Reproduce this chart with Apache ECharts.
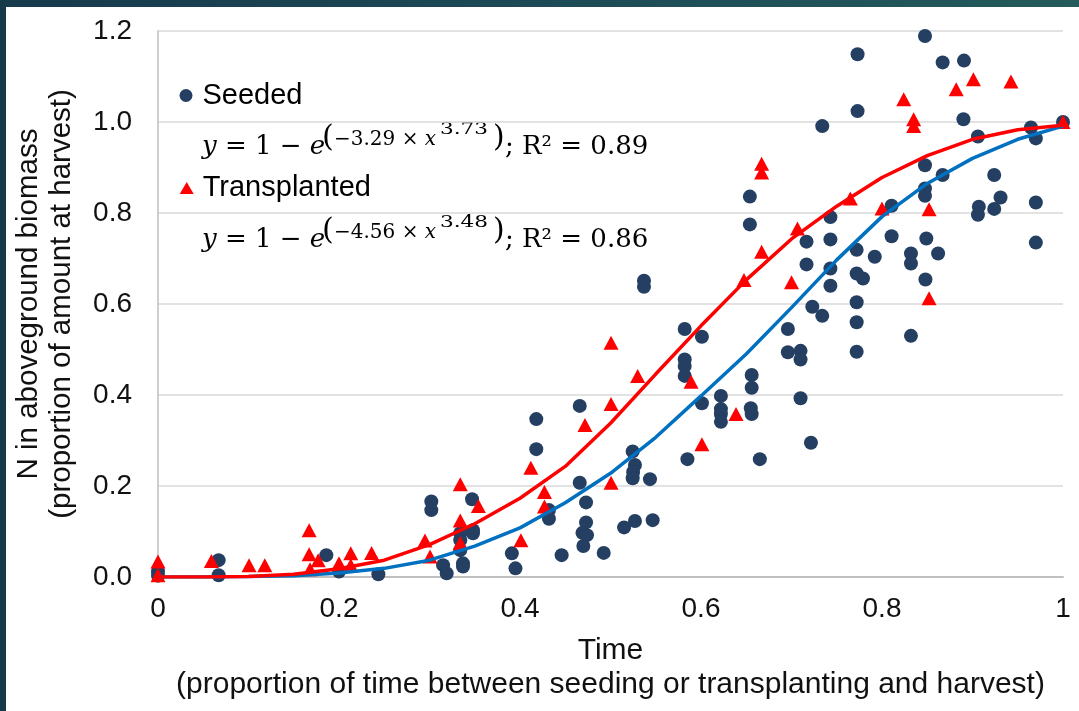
<!DOCTYPE html>
<html>
<head>
<meta charset="utf-8">
<script src="https://cdn.jsdelivr.net/npm/echarts@6/dist/echarts.min.js"></script>
<style>
  html, body { margin: 0; padding: 0; background: #ffffff; }
  #chart { position: absolute; left: 0; top: 0; width: 1079px; height: 711px; background: #ffffff; }
  #stripTop { position: absolute; left: 0; top: 0; width: 1079px; height: 7px; background: linear-gradient(90deg, #173a4c 0%, #1d4a56 50%, #245b5a 100%); z-index: 5; }
  #stripLeft { position: absolute; left: 0; top: 0; width: 6px; height: 711px; background: #173a4b; z-index: 5; }
</style>
</head>
<body>
<div id="chart"></div>
<div id="stripTop"></div>
<div id="stripLeft"></div>
<script>
// ---- Data ----
const seededX = [0, 0, 0.067, 0.067, 0.186, 0.200, 0.2435, 0.302, 0.302, 0.315, 0.319,
  0.334, 0.334, 0.334, 0.337, 0.337, 0.347, 0.348, 0.348, 0.391, 0.395,
  0.418, 0.418, 0.432, 0.432, 0.446, 0.466, 0.466, 0.473, 0.473, 0.469, 0.474, 0.470,
  0.4925, 0.515, 0.527, 0.5466, 0.5245, 0.527, 0.525, 0.5245, 0.5436,
  0.537, 0.537, 0.582, 0.601, 0.582, 0.582, 0.582, 0.601, 0.585,
  0.622, 0.622, 0.622, 0.622, 0.654, 0.654, 0.656, 0.656, 0.655, 0.656, 0.665,
  0.696, 0.696, 0.710, 0.710, 0.710, 0.7166, 0.7166, 0.7215, 0.723, 0.734, 0.734,
  0.743, 0.743, 0.743, 0.743, 0.773, 0.773, 0.772, 0.772, 0.779, 0.772, 0.772, 0.772,
  0.792, 0.8106, 0.8106, 0.832, 0.832, 0.832, 0.8475, 0.8475, 0.8475, 0.8475, 0.849, 0.848,
  0.862, 0.867, 0.867, 0.8906, 0.890, 0.906, 0.907, 0.906, 0.924, 0.924, 0.931,
  0.9646, 0.970, 0.970, 0.970, 1.0];
const seededY = [0.012, 0.003, 0.037, 0.004, 0.048, 0.012, 0.006, 0.166, 0.147, 0.026, 0.008,
  0.096, 0.081, 0.059, 0.030, 0.023, 0.171, 0.103, 0.096, 0.052, 0.019,
  0.347, 0.281, 0.147, 0.128, 0.048, 0.376, 0.207, 0.164, 0.120, 0.097, 0.092, 0.068,
  0.053, 0.109, 0.123, 0.125, 0.276, 0.246, 0.231, 0.217, 0.215,
  0.651, 0.638, 0.545, 0.528, 0.478, 0.464, 0.442, 0.382, 0.259,
  0.398, 0.369, 0.358, 0.341, 0.836, 0.775, 0.444, 0.416, 0.371, 0.358, 0.259,
  0.545, 0.494, 0.497, 0.478, 0.393, 0.737, 0.687, 0.295, 0.594, 0.991, 0.574,
  0.791, 0.742, 0.678, 0.640, 1.149, 1.024, 0.719, 0.667, 0.656, 0.604, 0.560, 0.495,
  0.704, 0.816, 0.749, 0.711, 0.689, 0.530, 1.189, 0.905, 0.854, 0.838, 0.744, 0.654,
  0.711, 1.131, 0.8835, 1.135, 1.006, 0.968, 0.814, 0.796, 0.8835, 0.809, 0.834,
  0.988, 0.964, 0.823, 0.735, 1.0];

const transplantedX = [0, 0, 0.059, 0.1006, 0.118, 0.167, 0.167, 0.168, 0.177, 0.200, 0.213, 0.213,
  0.236, 0.295, 0.3006, 0.334, 0.334, 0.334, 0.354, 0.401, 0.412, 0.427, 0.427,
  0.4718, 0.5006, 0.5006, 0.5006, 0.530, 0.589, 0.601, 0.6387, 0.6475,
  0.667, 0.667, 0.667, 0.700, 0.7066, 0.765, 0.800, 0.824, 0.835, 0.835,
  0.852, 0.852, 0.882, 0.901, 0.9425, 1.0];
const transplantedY = [0.034, 0.004, 0.035, 0.026, 0.026, 0.103, 0.050, 0.017, 0.037, 0.030, 0.052, 0.026,
  0.053, 0.080, 0.045, 0.204, 0.124, 0.075, 0.156, 0.081, 0.240, 0.187, 0.155,
  0.334, 0.515, 0.380, 0.207, 0.442, 0.429, 0.292, 0.358, 0.653,
  0.908, 0.889, 0.715, 0.648, 0.766, 0.832, 0.810, 1.050, 1.006, 0.991,
  0.808, 0.6125, 1.072, 1.094, 1.089, 1.0];

// fitted curves
const fitX = [0, 0.05, 0.1, 0.15, 0.2, 0.25, 0.3, 0.35, 0.4, 0.45, 0.5,
  0.55, 0.6, 0.65, 0.7, 0.75, 0.8, 0.85, 0.9, 0.95, 1.0];
const seededFitY = [0, 0, 0.001, 0.003, 0.009, 0.019, 0.037, 0.068, 0.108, 0.163, 0.228,
  0.307, 0.398, 0.490, 0.592, 0.697, 0.792, 0.865, 0.920, 0.962, 0.991];
const transplantedFitY = [0, 0, 0.001, 0.006, 0.018, 0.037, 0.071, 0.117, 0.173, 0.243, 0.338,
  0.446, 0.552, 0.653, 0.743, 0.815, 0.878, 0.926, 0.962, 0.983, 0.993];

const xTickLabels = ['0', '0.2', '0.4', '0.6', '0.8', '1'];
const yTickLabels = ['0.0', '0.2', '0.4', '0.6', '0.8', '1.0', '1.2'];

const seriesNames = ['Seeded', 'Transplanted'];
const eqCoef = ['\u22123.29 \u00d7 ', '\u22124.56 \u00d7 '];
const eqPow = ['3.73', '3.48'];
const eqR2 = ['0.89', '0.86'];

const pairs = (xs, ys) => xs.map((x, i) => [x, ys[i]]);

// ---- equation graphics ----
const SERIF = '"DejaVu Serif", serif';
function eqGraphics(k, dy) {
  const mk = (x, y, text, size, extra) => Object.assign({
    type: 'text', x: x, y: y + dy, silent: true,
    style: Object.assign({
      text: text, fill: '#000', font: size + 'px ' + SERIF,
      textAlign: 'left', textVerticalAlign: 'middle', verticalAlign: 'middle'
    }, extra || {})
  });
  return [
    mk(202, 147.5, '{i|y} = 1 \u2212 {i|e}', 26, {
      rich: { i: { fontStyle: 'italic', fontFamily: SERIF, fontSize: 26, fill: '#000' } }
    }),
    mk(322, 138, '(', 30),
    mk(334, 139.5, eqCoef[k] + '{i|x}', 20, {
      rich: { i: { fontStyle: 'italic', fontFamily: SERIF, fontSize: 20, fill: '#000' } }
    }),
    Object.assign(mk(440, 130, eqPow[k], 16), { scaleX: 1.35 }),
    mk(493, 138, ')', 30),
    mk(505, 147.5, '; R\u00b2 = ' + eqR2[k], 26)
  ];
}

const chart = echarts.init(document.getElementById('chart'), null, { renderer: 'canvas' });
const textColor = '#111';
const SANS = '"Liberation Sans", Arial, sans-serif';

chart.setOption({
  animation: false,
  backgroundColor: '#ffffff',
  grid: { left: 158, right: 16, top: 31, bottom: 134, containLabel: false },
  legend: [
    {
      data: [seriesNames[0]], left: 179.5, top: 80.5, padding: 0, selectedMode: false,
      icon: 'circle', itemWidth: 13, itemHeight: 13,
      textStyle: { fontFamily: SANS, fontSize: 29, lineHeight: 30, color: '#000', padding: [0, 0, 0, 5] }
    },
    {
      data: [seriesNames[1]], left: 179.7, top: 173, padding: 0, selectedMode: false,
      icon: 'triangle', itemWidth: 14, itemHeight: 12,
      textStyle: { fontFamily: SANS, fontSize: 29, lineHeight: 30, color: '#000', padding: [0, 0, 0, 4] }
    }
  ],
  xAxis: {
    type: 'value', min: 0, max: 1, interval: 0.2,
    axisLine: { show: true, lineStyle: { color: '#bfbfbf', width: 2 } },
    axisTick: { show: false },
    splitLine: { show: false },
    axisLabel: {
      fontFamily: SANS, fontSize: 28, color: textColor, margin: 18,
      formatter: (v, i) => xTickLabels[i]
    },
    name: 'Time\n(proportion of time between seeding or transplanting and harvest)',
    nameLocation: 'middle', nameGap: 57,
    nameTextStyle: { fontFamily: SANS, fontSize: 30, lineHeight: 34, color: textColor }
  },
  yAxis: {
    type: 'value', min: 0, max: 1.2, interval: 0.2,
    axisLine: { show: true, lineStyle: { color: '#bfbfbf', width: 1.5 } },
    axisTick: { show: false },
    splitLine: { show: true, lineStyle: { color: '#d9d9d9', width: 1.5 } },
    axisLabel: {
      fontFamily: SANS, fontSize: 28, color: textColor, margin: 26,
      formatter: (v, i) => yTickLabels[i]
    },
    name: 'N in aboveground biomass\n(proportion of amount at harvest)',
    nameLocation: 'middle', nameRotate: 90, nameGap: 80,
    nameTextStyle: { fontFamily: SANS, fontSize: 29.5, lineHeight: 33, color: textColor }
  },
  series: [
    {
      name: seriesNames[0], type: 'scatter', symbol: 'circle', symbolSize: 14,
      itemStyle: { color: '#243f61', opacity: 1 },
      data: pairs(seededX, seededY), z: 2
    },
    {
      name: seriesNames[1], type: 'scatter', symbol: 'triangle', symbolSize: [15, 14],
      itemStyle: { color: '#ff0000', opacity: 1 },
      data: pairs(transplantedX, transplantedY), z: 3
    },
    {
      name: 'Seeded fit', type: 'line', showSymbol: false, symbol: 'none', smooth: false,
      lineStyle: { color: '#0070c0', width: 3.5 },
      data: pairs(fitX, seededFitY), z: 4
    },
    {
      name: 'Transplanted fit', type: 'line', showSymbol: false, symbol: 'none', smooth: false,
      lineStyle: { color: '#ff0000', width: 3.5 },
      data: pairs(fitX, transplantedFitY), z: 4
    }
  ],
  graphic: [].concat(eqGraphics(0, 0), eqGraphics(1, 93))
});
</script>
</body>
</html>
